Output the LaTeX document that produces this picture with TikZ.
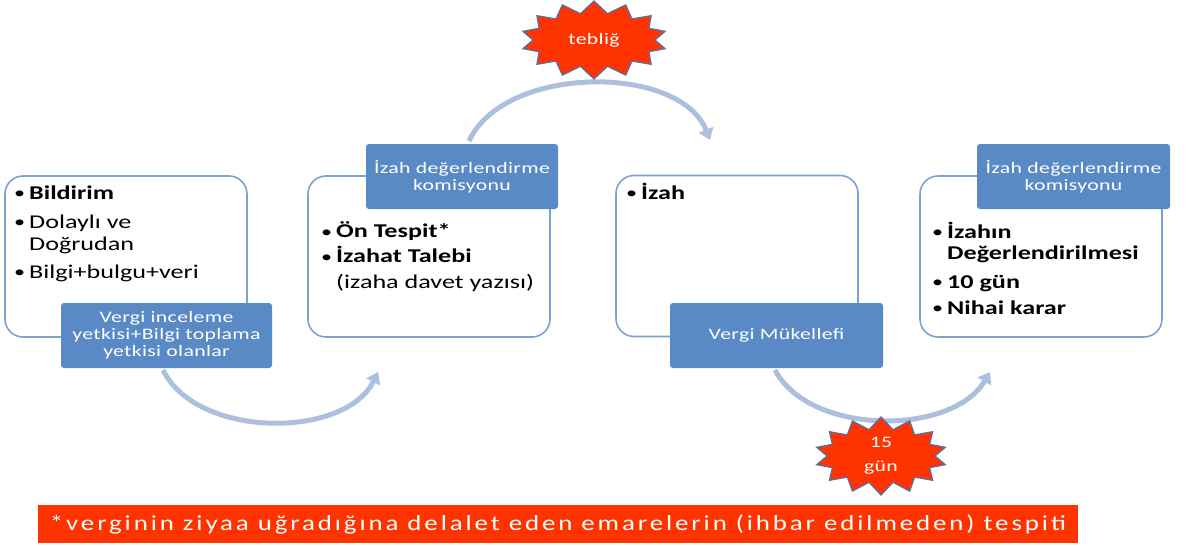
\documentclass[tikz,border=0pt]{standalone}
\usepackage{fontspec}
\setmainfont[FakeStretch=1.34]{Carlito}
\newfontfamily\tagfont[FakeStretch=1.36,LetterSpace=2]{Carlito}
\newfontfamily\bannerfont[FakeStretch=1.25,LetterSpace=13.5]{Carlito}
\usetikzlibrary{shapes.symbols,arrows.meta}
\definecolor{boxline}{RGB}{125,162,210}
\definecolor{labelfill}{RGB}{89,138,198}
\definecolor{arrowc}{RGB}{172,192,222}
\definecolor{burst}{RGB}{255,51,0}
\definecolor{burstline}{RGB}{84,114,165}
\newcommand{\bul}{\makebox[15pt][l]{\raisebox{0.5pt}{\scalebox{0.85}{\textbullet}}}}
\begin{document}
\begin{tikzpicture}[x=1pt,y=-1pt,
  panel/.style={draw=boxline,line width=1.6pt,rounded corners=18pt,fill=white,minimum width=242pt,minimum height=161pt,inner sep=0pt},
  tag/.style={fill=labelfill,rounded corners=3pt,text=white,align=center,font=\tagfont\fontsize{16}{17.2}\selectfont,inner sep=0pt,minimum height=65pt},
  bodytext/.style={anchor=north west,inner sep=0pt,font=\fontsize{19.5}{22}\selectfont},
  flow/.style={draw=arrowc,line width=5pt,-{Triangle[length=11pt,width=15pt]}},
  burststar/.style={starburst,starburst points=14,starburst point height=12pt,random starburst=0,fill=burst,draw=burstline,line width=1.2pt,text=white,align=center,font=\tagfont\fontsize{16}{24}\selectfont,inner sep=0pt}
]
\useasboundingbox (0,0) rectangle (1186,546);

% connector end points
\coordinate (a1s) at (163,370);
\coordinate (a1e) at (378,372);
\coordinate (a2s) at (469,141);
\coordinate (a2e) at (710,140);
\coordinate (a3s) at (775,370);
\coordinate (a3e) at (990,372);

\draw[flow] (a1s) .. controls (197,439) and (345,439) .. (a1e);
\draw[flow] (a2s) .. controls (505,64) and (680,64) .. (a2e);
\draw[flow] (a3s) .. controls (810,436) and (952,436) .. (a3e);

% panels
\node[panel] (p1) at (126,256.5) {};
\node[panel] (p2) at (429,256.5) {};
\node[panel] (p3) at (737,256) {};
\node[panel] (p4) at (1041,256.5) {};

% panel texts
\node[bodytext] (t1) at (14,183.6) {\begin{tabular}{@{}l@{}l@{}}\bul&\textbf{Bildirim}\\[7pt] \bul&Dolaylı ve\\ &Doğrudan\\[6pt] \bul&Bilgi+bulgu+veri\end{tabular}};
\node[bodytext] (t2) at (321,221.6) {\begin{tabular}{@{}l@{}l@{}}\bul&\textbf{Ön Tespit*}\\[2pt] \bul&\textbf{İzahat Talebi}\\[4pt] &(izaha davet yazısı)\end{tabular}};
\node[bodytext] (t3) at (626,182.6) {\begin{tabular}{@{}l@{}l@{}}\bul&\textbf{İzah}\end{tabular}};
\node[bodytext] (t4) at (932,221.6) {\begin{tabular}{@{}l@{}l@{}}\bul&\textbf{İzahın}\\[-1pt] &\textbf{Değerlendirilmesi}\\[7pt] \bul&\textbf{10 gün}\\[4pt] \bul&\textbf{Nihai karar}\end{tabular}};

% tags
\node[tag,minimum width=211pt] (g1) at (166.5,335.5) {Vergi inceleme\\yetkisi+Bilgi toplama\\yetkisi olanlar};
\node[tag,minimum width=192pt] (g2) at (462,176.5) {İzah değerlendirme\\komisyonu};
\node[tag,minimum width=213pt] (g3) at (776.5,335.5) {Vergi Mükellefi};
\node[tag,minimum width=193pt] (g4) at (1073.5,176.5) {İzah değerlendirme\\komisyonu};

% starbursts
\node[burststar,minimum width=146pt,minimum height=78pt] (s1) at (594,40) {tebliğ};
\node[burststar,minimum width=132pt,minimum height=78pt] (s2) at (881,456) {15\\gün};

% banner
\node[fill=burst,minimum width=1040pt,minimum height=38pt,inner sep=0pt,text=white,font=\bannerfont\fontsize{21.5}{24}\selectfont] (bn) at (558,524) {*verginin ziyaa uğradığına delalet eden emarelerin (ihbar edilmeden) tespiti};
\end{tikzpicture}
\end{document}
